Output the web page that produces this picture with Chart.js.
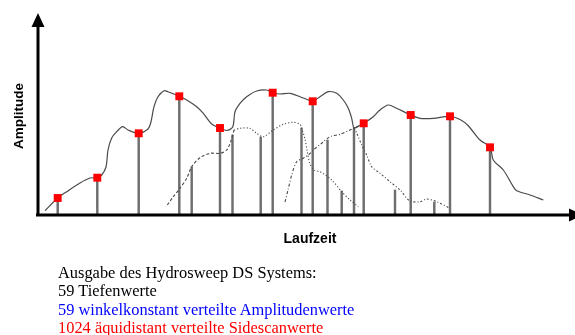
<!DOCTYPE html>
<html>
<head>
<meta charset="utf-8">
<script src="https://cdn.jsdelivr.net/npm/chart.js@4.4.1/dist/chart.umd.min.js"></script>
<style>
  html, body { margin: 0; padding: 0; background: #fff; }
  #wrap { position: relative; width: 575px; height: 335px; overflow: hidden; }
  #wrap canvas { position: absolute; left: 0; top: 0; }
  .info { position: absolute; left: 58px; white-space: nowrap;
          font-family: "Liberation Serif", "Times New Roman", serif; font-size: 16.4px; line-height: 18.3px; }
</style>
</head>
<body>
<div id="wrap">
  <canvas id="echoChart" width="575" height="335"></canvas>
  <div class="info" style="top:264px; color:#000;">Ausgabe des Hydrosweep DS Systems:</div>
  <div class="info" style="top:282.3px; color:#000;">59 Tiefenwerte</div>
  <div class="info" style="top:300.6px; color:#0000ff;">59 winkelkonstant verteilte Amplitudenwerte</div>
  <div class="info" style="top:318.9px; color:#ff0000;">1024 äquidistant verteilte Sidescanwerte</div>
</div>
<script>
// Hüllkurve des Echos (Laufzeit / Amplitude)
const envZeit = [7, 19.7, 28.7, 42, 52, 59.3, 63.7, 68, 70, 73.7, 78.7, 84.7, 90, 100.7, 110, 112.7, 116, 120, 126, 130,
  141.3, 148.7, 158.7, 165.3, 173.7, 182, 188.7, 194.7, 197, 202, 208.7, 218.7, 228.7, 234.7, 242, 252, 262, 270.3,
  274.7, 282, 290.3, 298.7, 305.3, 310.3, 313.7, 316, 321, 325.7, 335.3, 342, 350.3, 358.7, 372.7, 382, 395.3, 412,
  422, 430, 442, 452, 455.3, 465.3, 475.3, 478.7, 492, 505.3];
const envAmp = [4.3, 17, 23.3, 32, 37, 37.3, 40, 48, 65, 77, 83.3, 88.3, 85, 81.7, 86, 92, 108.3, 118.3, 124.3, 123.3,
  118.7, 115, 108.3, 101.7, 91, 87, 84.5, 88, 103.3, 111.7, 118.3, 124, 125, 122.3, 121, 121.7, 118.3, 115,
  113.7, 118.3, 123.3, 121.7, 115, 106.7, 96.7, 87.3, 89, 91.7, 98.3, 105, 110, 106.7, 100, 96.7, 96.7, 98.7,
  95.5, 89.5, 75, 67.7, 55, 45, 28.3, 24.3, 20, 15];

// Einzelne Keulen (gestrichelt / punktiert)
const keuleAZeit = [129.3, 135.3, 142, 148.7, 153.7, 162, 172, 182, 188.7, 192.7, 196];
const keuleAAmp = [10, 18.3, 26.7, 36.7, 48.3, 57.3, 61.7, 61.7, 65, 73.3, 85];
const keuleBZeit = [196, 202, 212, 218.7, 225.3, 235.3, 245.3, 255.3, 262, 263.7, 267, 269.3, 272, 276, 282, 293.7, 303.7, 312, 320.3];
const keuleBAmp = [85, 86.7, 86.7, 81.7, 78.3, 85, 90.7, 92.7, 90.7, 86.7, 76, 63.3, 51, 45, 43.3, 35, 23.3, 15, 8.3];
const keuleCZeit = [247, 250, 253.7, 258.7, 265.3, 270.3, 275.3, 283.7, 292, 302, 312, 325.7];
const keuleCAmp = [13, 25, 40, 53.3, 56.7, 60, 65, 71.7, 78.3, 80.7, 85, 91.7];
const keuleDZeit = [316, 318.7, 323.7, 328.7, 333.7, 342, 352, 362, 372, 382, 388.7, 398.7, 412];
const keuleDAmp = [87.3, 82, 70, 60, 48.3, 41.7, 33.3, 25, 14, 13.3, 16, 13.3, 6.7];

// Abtastwerte mit Marke
const markeZeit = [19.7, 59.3, 100.7, 141.3, 182, 234.7, 274.7, 325.7, 372.7, 412, 452];
const markeAmp = [17, 37.3, 81.7, 118.7, 87, 122.3, 113.7, 91.7, 100, 98.7, 67.7];
// weitere Abtastwerte ohne Marke
const stielZeit = [153.7, 194.5, 222.7, 263.5, 289.5, 303.7, 316, 357, 396.3];
const stielAmp = [48, 80, 78, 87, 75, 24, 87.3, 25, 13];

function pts(xs, ys) {
  return xs.map((x, i) => ({ x: x, y: ys[i] }));
}

const stiele = pts(markeZeit, markeAmp).concat(pts(stielZeit, stielAmp)).sort((a, b) => a.x - b.x);

// Achsen mit Pfeilspitzen und Beschriftung
const achsenPlugin = {
  id: 'achsen',
  afterDatasetsDraw(chart) {
    const c = chart.ctx;
    const a = chart.chartArea;
    const x0 = a.left, y0 = a.bottom;
    c.save();
    c.strokeStyle = '#000';
    c.fillStyle = '#000';
    c.lineWidth = 3;
    c.beginPath();
    c.moveTo(x0, y0 + 1.5);
    c.lineTo(x0, a.top + 12);
    c.moveTo(x0 - 2, y0);
    c.lineTo(a.right + 1, y0);
    c.stroke();
    // Pfeil oben
    c.beginPath();
    c.moveTo(x0, a.top - 2);
    c.lineTo(x0 - 6.5, a.top + 12);
    c.lineTo(x0 + 6.5, a.top + 12);
    c.closePath();
    c.fill();
    // Pfeil rechts
    c.beginPath();
    c.moveTo(a.right + 15, y0);
    c.lineTo(a.right + 1, y0 - 6.5);
    c.lineTo(a.right + 1, y0 + 6.5);
    c.closePath();
    c.fill();

    c.font = 'bold 13.5px "Liberation Sans", Arial, sans-serif';
    c.textAlign = 'center';
    c.textBaseline = 'middle';
    c.save();
    c.translate(19, 116);
    c.rotate(-Math.PI / 2);
    c.fillText('Amplitude', 0, 0);
    c.restore();
    c.font = 'bold 14px "Liberation Sans", Arial, sans-serif';
    c.fillText('Laufzeit', 310, 239.5);
    c.restore();
  }
};

const kurve = '#4a4a4a';

new Chart(document.getElementById('echoChart'), {
  type: 'scatter',
  data: {
    datasets: [
      {
        type: 'scatter',
        data: pts(markeZeit, markeAmp),
        pointStyle: 'rect',
        pointRadius: 5.6,
        backgroundColor: '#ff0000',
        borderWidth: 0
      },
      {
        type: 'line',
        data: pts(envZeit, envAmp),
        borderColor: kurve,
        borderWidth: 1.2,
        pointRadius: 0,
        tension: 0.3
      },
      {
        type: 'line',
        data: pts(keuleAZeit, keuleAAmp),
        borderColor: kurve,
        borderWidth: 1.1,
        borderDash: [3, 2],
        pointRadius: 0,
        tension: 0.3
      },
      {
        type: 'line',
        data: pts(keuleBZeit, keuleBAmp),
        borderColor: kurve,
        borderWidth: 1.1,
        borderDash: [1.2, 2],
        pointRadius: 0,
        tension: 0.3
      },
      {
        type: 'line',
        data: pts(keuleCZeit, keuleCAmp),
        borderColor: kurve,
        borderWidth: 1.1,
        borderDash: [3, 2, 1, 2],
        pointRadius: 0,
        tension: 0.3
      },
      {
        type: 'line',
        data: pts(keuleDZeit, keuleDAmp),
        borderColor: kurve,
        borderWidth: 1.1,
        borderDash: [2, 2, 1, 2],
        pointRadius: 0,
        tension: 0.3
      },
      {
        type: 'bar',
        data: stiele,
        backgroundColor: '#6e6e6e',
        barThickness: 1.8,
        borderWidth: 0
      }
    ]
  },
  options: {
    responsive: false,
    animation: false,
    layout: { padding: { left: 38, right: 7, top: 15, bottom: 120 } },
    scales: {
      x: { type: 'linear', min: 0, max: 530, offset: false, display: false },
      y: { type: 'linear', min: 0, max: 200, display: false }
    },
    plugins: {
      legend: { display: false },
      tooltip: { enabled: false }
    }
  },
  plugins: [achsenPlugin]
});
</script>
</body>
</html>
